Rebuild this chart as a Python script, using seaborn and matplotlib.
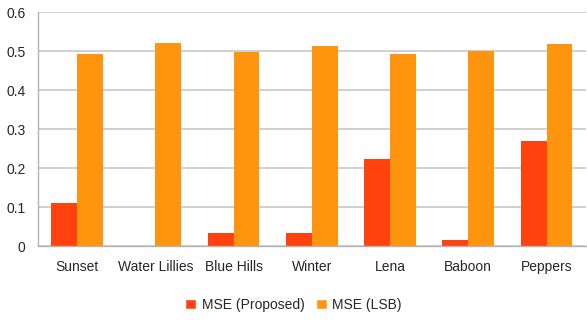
import pandas as pd
import seaborn as sns
import matplotlib.pyplot as plt
from matplotlib.patches import Patch

images = ["Sunset", "Water Lillies", "Blue Hills", "Winter", "Lena", "Baboon", "Peppers"]
mse_proposed = [0.110, 0.0, 0.033, 0.033, 0.223, 0.015, 0.269]
mse_lsb = [0.493, 0.521, 0.498, 0.513, 0.493, 0.500, 0.518]
series = ["MSE (Proposed)", "MSE (LSB)"]
colors = ["#ff420e", "#ff950e"]

df = pd.DataFrame({"image": images, series[0]: mse_proposed, series[1]: mse_lsb})
df = df.melt(id_vars="image", var_name="method", value_name="mse")

sns.set_style("white")
plt.rcParams["font.family"] = ["Liberation Sans", "DejaVu Sans"]

fig = plt.figure(figsize=(5.87, 3.2), dpi=100)
ax = fig.add_axes([0.0647, 0.231, 0.933, 0.7315])

sns.barplot(
    data=df,
    x="image",
    y="mse",
    hue="method",
    hue_order=series,
    palette=colors,
    width=0.66,
    saturation=1,
    gap=0,
    linewidth=0,
    legend=False,
    ax=ax,
)

ax.set_ylim(0, 0.6)
ax.set_xlim(-0.5, len(images) - 0.5)
ax.set_yticks([0, 0.1, 0.2, 0.3, 0.4, 0.5, 0.6])
ax.set_yticklabels(["0", "0.1", "0.2", "0.3", "0.4", "0.5", "0.6"])
ax.yaxis.grid(True, color="#c8c8c8", linewidth=1.2)
ax.set_axisbelow(True)
ax.set_xlabel("")
ax.set_ylabel("")

for s in ["top", "right"]:
    ax.spines[s].set_visible(False)
for s in ["left", "bottom"]:
    ax.spines[s].set_color("#b3b3b3")
    ax.spines[s].set_linewidth(1.0)

ax.tick_params(axis="x", which="major", length=0, labelsize=10, pad=10)
ax.set_xticks([i - 0.5 for i in range(len(images) + 1)], minor=True)
ax.tick_params(axis="x", which="minor", length=5, color="#b3b3b3", direction="out")
ax.tick_params(axis="y", length=5, color="#b3b3b3", labelsize=10, pad=4)

handles = [Patch(facecolor=c, label=l) for c, l in zip(colors, series)]
fig.legend(
    handles=handles,
    loc="center",
    bbox_to_anchor=(0.5, 0.047),
    ncol=2,
    frameon=False,
    fontsize=10,
    handlelength=0.8,
    handleheight=0.8,
    handletextpad=0.4,
    columnspacing=0.8,
)

fig.savefig("out.png", dpi=100)
